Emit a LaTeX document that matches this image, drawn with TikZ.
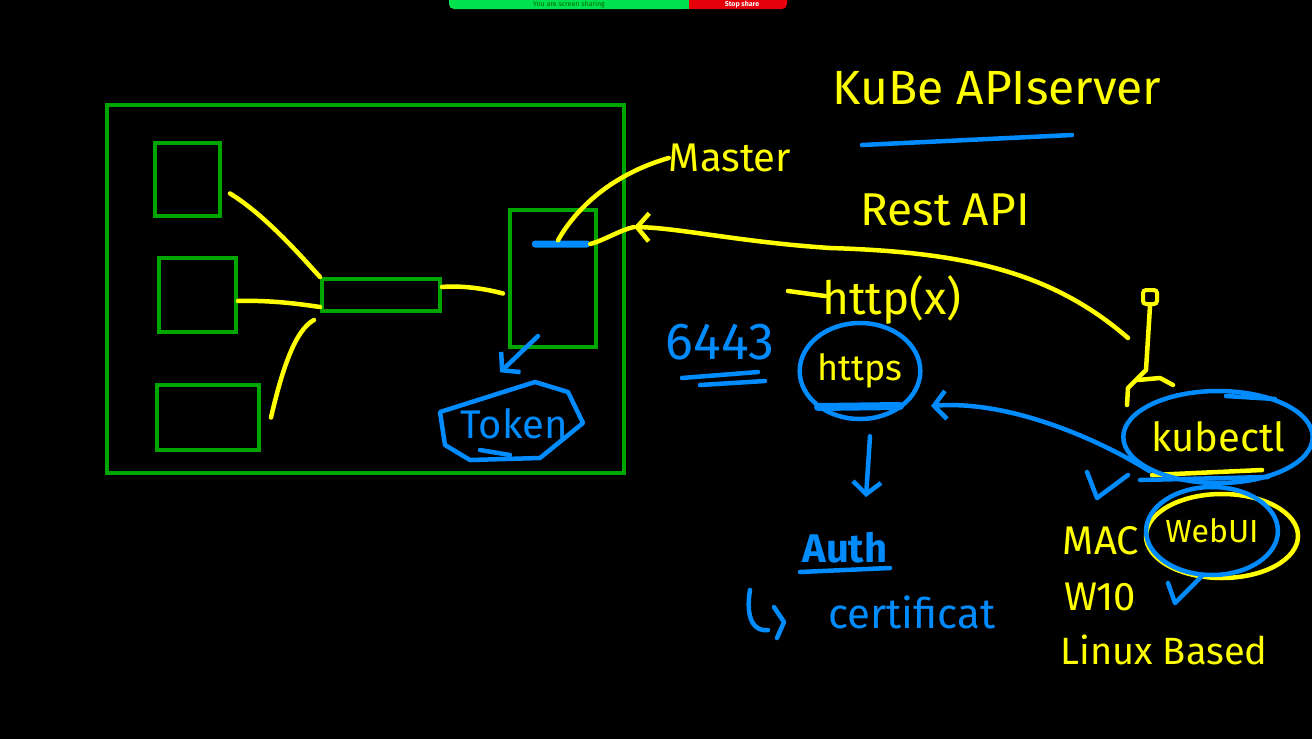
\documentclass[tikz,border=0pt]{standalone}
\usepackage{fontspec}
\setmainfont{Fira Sans}
\usetikzlibrary{arrows.meta, shapes.geometric}
\definecolor{ink}{RGB}{255,255,0}
\definecolor{pen}{RGB}{0,140,255}
\definecolor{kgreen}{RGB}{0,165,0}
\definecolor{sharegreen}{RGB}{0,225,80}
\definecolor{sharered}{RGB}{230,0,10}
\tikzset{
  comp/.style={draw=kgreen, line width=4pt, inner sep=0pt},
  yline/.style={draw=ink, line width=4.5pt, line cap=round, line join=round},
  bline/.style={draw=pen, line width=4.5pt, line cap=round, line join=round},
  tip/.style={-{Straight Barb[length=12pt, width=28pt]}},
  ytxt/.style={text=ink, inner sep=0pt},
  btxt/.style={text=pen, inner sep=0pt}
}

\begin{document}
\begin{tikzpicture}[x=1pt, y=-1pt]
        \useasboundingbox (0,0) rectangle (1312,739);
        \fill[black] (0,0) rectangle (1312,739);
        % screen share bar
        \fill[sharegreen, rounded corners=5pt] (449,-14) rectangle (689,9);
        \fill[sharegreen] (670,-14) rectangle (689,9);
        \fill[sharered, rounded corners=5pt] (689,-14) rectangle (787,9);
        \fill[sharered] (689,-14) rectangle (705,9);
        \node[text=black!60!green, font=\fontsize{7}{7}\selectfont] at (569,4.5) {You are screen sharing};
        \node[text=white, font=\fontsize{7}{7}\selectfont\bfseries] at (742,4.5) {Stop share};
        % cluster
        \node[comp, minimum width=517pt, minimum height=368pt] (cluster) at (365.5,289) {};
        \node[comp, minimum width=65pt, minimum height=73pt] (podA) at (187.5,179.5) {};
        \node[comp, minimum width=77pt, minimum height=74pt] (podB) at (197.5,295) {};
        \node[comp, minimum width=102pt, minimum height=65pt] (podC) at (208,417.5) {};
        \node[comp, minimum width=118pt, minimum height=32pt] (kubelet) at (381,295) {};
        \node[comp, minimum width=86pt, minimum height=137pt] (api) at (553,278.5) {};
        \node[fill=pen, rounded corners=3pt, minimum width=58pt, minimum height=7pt, inner sep=0pt] (port) at (561,244) {};
        \draw[yline] ([xshift=8pt,yshift=-14pt]podA.east) .. controls (265,215) and (300,255) .. (kubelet.north west);
        \draw[yline] ([yshift=-6pt]podB.east) .. controls (270,300) and (300,304) .. ([yshift=6pt]kubelet.south west);
        \draw[yline] ([xshift=10pt]podC.east) .. controls (282,370) and (295,330) .. ([xshift=-6pt,yshift=-7pt]kubelet.south west);
        \draw[yline] ([yshift=8pt]kubelet.east) .. controls (465,285) and (490,290) .. ([xshift=-5pt,yshift=-15pt]api.west);
        % token
        \node[btxt, font=\fontsize{40}{40}\selectfont, minimum width=135pt, minimum height=75pt] (token) at (514,424) {Token};
        \draw[bline] (440,412) -- (445,445) -- (470,460) -- (540,458) -- (583,423) -- (568,392) -- (535,382) -- cycle;
        \draw[bline] (480,450) -- (510,455);
        \draw[bline, tip] ([xshift=-15pt,yshift=13pt]api.south) -- ([xshift=-14pt,yshift=14pt]token.north);
        % master and api server
        \node[ytxt, font=\fontsize{40}{40}\selectfont] (master) at (730,158) {Master};
        \draw[yline] ([xshift=-3pt]port.north) .. controls (575,210) and (610,175) .. (master.west);
        \node[ytxt, font=\fontsize{48}{48}\selectfont] (apiserver) at (997,88) {KuBe APIserver};
        \draw[bline] (862,145) -- (1072,135);
        \node[ytxt, font=\fontsize{46}{46}\selectfont] (rest) at (945,210) {Rest API};
        \node[ytxt, font=\fontsize{46}{46}\selectfont] (http) at (892,300) {http(x)};
        \draw[yline] (788,291) -- (825,296);
        % user
        \node[draw=ink, line width=4pt, minimum size=14pt, inner sep=0pt, rounded corners=3pt] (user) at (1150,297) {};
        \draw[yline] (user.south) -- (1146,370) -- (1128,388) -- (1127,405);
        \draw[yline] (1138,380) -- (1160,378) -- (1173,385);
        \coordinate (restend) at (1128,338);
        \coordinate (apiin) at (634,227);
        \draw[yline, tip] (restend) .. controls (1050,270) and (960,252) .. (830,248) .. controls (740,242) and (680,228) .. (apiin);
        \draw[yline] (port.east) .. controls (605,240) and (620,230) .. (apiin);
        % https
        \node[ytxt, draw=pen, line width=4.5pt, ellipse, minimum width=118pt, minimum height=96pt, font=\fontsize{36}{36}\selectfont] (https) at (860,371) {https};
        \draw[bline, line width=8pt] (818,407) -- (900,406);
        \node[btxt, font=\fontsize{52}{52}\selectfont] (num) at (720,342) {6443};
        \draw[bline] (682,378) -- (758,372);
        \draw[bline] (700,385) -- (765,381);
        % auth
        \node[btxt, font=\fontsize{40}{40}\selectfont\bfseries] (auth) at (845,548) {Auth};
        \draw[bline] (800,572) -- (890,568);
        \coordinate (authin) at (866,497);
        \draw[bline, tip] ([xshift=10pt,yshift=-15pt]https.south) -- (authin);
        \node[btxt, font=\fontsize{42}{42}\selectfont] (cert) at (912,612) {certificat};
        \draw[bline] (750,590) .. controls (745,620) and (755,632) .. (768,630);
        \draw[bline] (774,607) -- (784,622) -- (777,638);
        % clients
        \draw[yline] (1152,475) -- (1262,470);
        \node[ytxt, draw=pen, line width=4.5pt, ellipse, inner sep=0pt, minimum width=172pt, minimum height=92pt, font=\fontsize{40}{40}\selectfont] (kubectl) at (1218,437) {kubectl};
        \draw[bline] (1140,480) -- (1268,477);
        \draw[bline] (1226,396) -- (1275,399);
        \coordinate (httpsin) at (931,406);
        \draw[bline, tip] (kubectl.south west) .. controls (1100,440) and (1010,400) .. (httpsin);
        \draw[yline] (1222,536) ellipse [x radius=76, y radius=42];
        \node[ytxt, draw=pen, line width=4.5pt, ellipse, inner sep=0pt, minimum width=130pt, minimum height=88pt, font=\fontsize{32}{32}\selectfont] (webui) at (1212,531) {WebUI};
        \draw[bline] (1087,472) -- (1097,498) -- (1128,475);
        \draw[bline] (1168,583) -- (1175,603) -- (1203,575);
        \node[ytxt, font=\fontsize{40}{40}\selectfont] (mac) at (1101,541) {MAC};
        \node[ytxt, font=\fontsize{40}{40}\selectfont] (win) at (1100,597) {W10};
        \node[ytxt, font=\fontsize{38}{38}\selectfont] (linux) at (1164,650) {Linux Based};
      \end{tikzpicture}
\end{document}
